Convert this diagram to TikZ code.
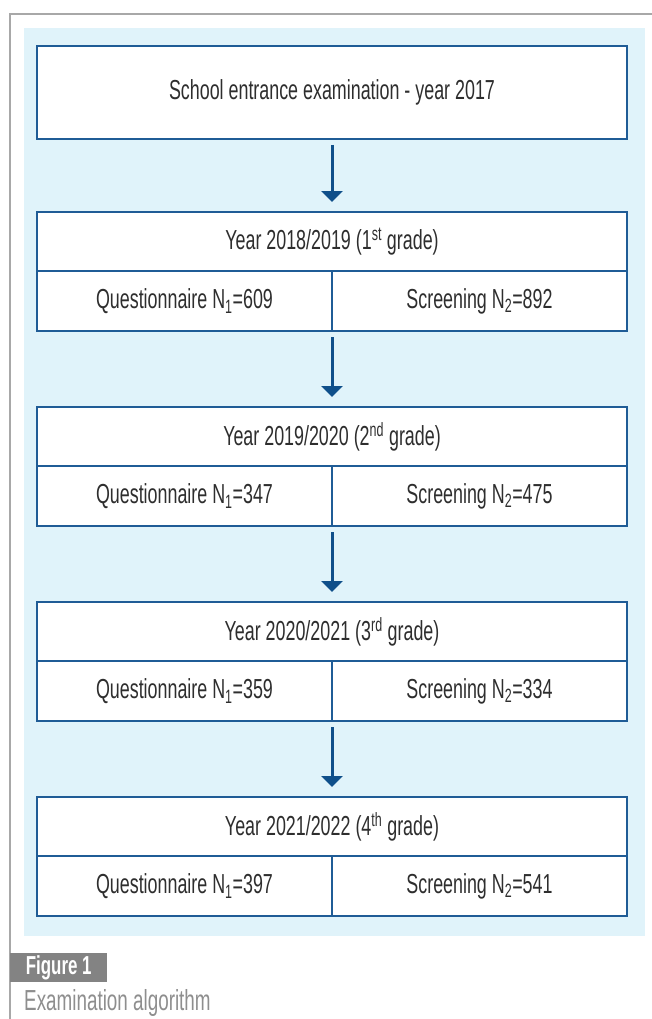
\documentclass[tikz,border=0pt]{standalone}
\usepackage{fontspec}
\setmainfont{Liberation Sans}[FakeStretch=0.65]
\usetikzlibrary{arrows.meta}
\definecolor{framegray}{HTML}{A8A8A8}
\definecolor{panelblue}{HTML}{E0F3FA}
\definecolor{lineblue}{HTML}{1F5C96}
\definecolor{arrowblue}{HTML}{0F4F8A}
\definecolor{textgray}{HTML}{2E2E2E}
\definecolor{labelgray}{HTML}{838383}
\definecolor{capgray}{HTML}{8E8E8E}
\tikzset{
  stagebox/.style={draw=lineblue, line width=2pt, fill=white, inner sep=0pt, outer sep=0pt,
    text=textgray, font=\fontsize{27.5}{30}\selectfont},
  flowarrow/.style={arrowblue, line width=3pt, -{Triangle[width=21pt,length=11pt]},
    shorten <=6pt, shorten >=10pt}
}
\begin{document}
\begin{tikzpicture}[x=1pt,y=-1pt]
	\useasboundingbox (0,0) rectangle (652,1019);
	% outer frame and panel
	\draw[framegray, line width=2pt] (10,1019) -- (10,14) -- (652,14);
	\fill[panelblue] (24,28) rectangle (645,936);
	% first box
	\node[stagebox, minimum width=590, minimum height=93] (intro) at (332,92.5) {School entrance examination - year 2017};
	\coordinate (foot0) at (intro.south);
	% one block per school year
	\foreach \i/\ya/\yb/\ord/\qn/\sn in {1/2018/2019/st/609/892, 2/2019/2020/nd/347/475,
	                                   3/2020/2021/rd/359/334, 4/2021/2022/th/397/541}{
		\pgfmathsetmacro\top{212+195*(\i-1)}
		\pgfmathtruncatemacro\p{\i-1}
		\node[stagebox, minimum width=590, minimum height=59] (head\i) at (332,\top+29.5)
			{Year \ya/\yb\ (\i\textsuperscript{\ord} grade)};
		\node[stagebox, minimum width=295, minimum height=60] (quest\i) at (184.5,\top+89)
			{Questionnaire N\textsubscript{1}=\qn};
		\node[stagebox, minimum width=295, minimum height=60] (scr\i) at (479.5,\top+89)
			{Screening N\textsubscript{2}=\sn};
		\coordinate (foot\i) at (quest\i.south east);
		\draw[flowarrow] (foot\p) -- (foot\p |- head\i.north);
	}
	% caption
	\node[fill=labelgray, text=white, font=\fontsize{26}{28}\selectfont\bfseries, inner sep=0pt,
		minimum width=97, minimum height=29, anchor=north west] (figlabel) at (10,953) {Figure 1};
	\node[text=capgray, font=\fontsize{29}{32}\selectfont, inner sep=0pt, anchor=base west] (figcaption) at (24,1010) {Examination algorithm};
\end{tikzpicture}
\end{document}
